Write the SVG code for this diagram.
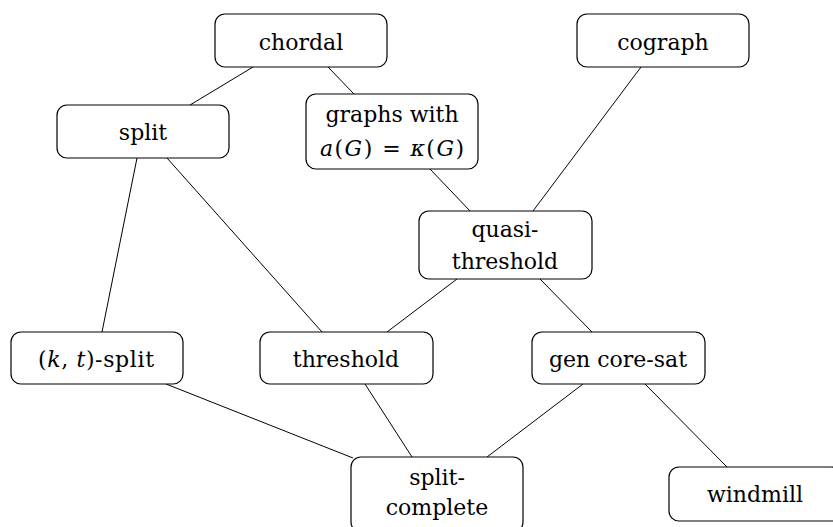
<svg xmlns="http://www.w3.org/2000/svg" width="833" height="527" viewBox="0 0 833 527">
<style>
.box{fill:#fff;stroke:#000;stroke-width:1.2}
text{font-family:'DejaVu Serif',serif;font-size:22px;fill:#000;text-anchor:middle}
.m{font-style:italic}
.e line{stroke:#000;stroke-width:1}
</style>
<rect width="833" height="527" fill="#fff"/>
<g class="e" id="connectors">
<line x1="253" y1="67" x2="190" y2="105"/>
<line x1="328" y1="67" x2="354" y2="94"/>
<line x1="430" y1="169" x2="470" y2="211"/>
<line x1="641" y1="67" x2="533" y2="211"/>
<line x1="137" y1="158" x2="102" y2="332"/>
<line x1="167" y1="158" x2="322" y2="332"/>
<line x1="457" y1="279" x2="387" y2="332"/>
<line x1="540" y1="279" x2="592" y2="332"/>
<line x1="166" y1="384" x2="353" y2="458"/>
<line x1="365" y1="384" x2="412" y2="457"/>
<line x1="583" y1="384" x2="487" y2="457"/>
<line x1="645" y1="384" x2="727" y2="467"/>
</g>
<g id="chordal"><rect class="box" x="215" y="14" width="172" height="53" rx="10"/><text x="301" y="50">chordal</text></g>
<g id="cograph"><rect class="box" x="577" y="14" width="172" height="53" rx="10"/><text x="663" y="50">cograph</text></g>
<g id="split"><rect class="box" x="57" y="105" width="172" height="53" rx="10"/><text x="143" y="140">split</text></g>
<g id="graphs"><rect class="box" x="306" y="94" width="172" height="75" rx="10"/><text x="392" y="122">graphs with</text><text x="392" y="156" textLength="144" lengthAdjust="spacing"><tspan class="m">a</tspan>(<tspan class="m">G</tspan>) = <tspan class="m">κ</tspan>(<tspan class="m">G</tspan>)</text></g>
<g id="quasi"><rect class="box" x="419" y="211" width="173" height="68" rx="10"/><text x="505" y="237">quasi-</text><text x="505" y="269">threshold</text></g>
<g id="ktsplit"><rect class="box" x="11" y="332" width="172" height="52" rx="10"/><text x="96" y="367" textLength="116" lengthAdjust="spacing">(<tspan class="m">k</tspan>, <tspan class="m">t</tspan>)-split</text></g>
<g id="threshold"><rect class="box" x="260" y="332" width="173" height="52" rx="10"/><text x="346" y="367">threshold</text></g>
<g id="gencoresat"><rect class="box" x="532" y="332" width="173" height="52" rx="10"/><text x="618" y="367">gen core-sat</text></g>
<g id="splitcomplete"><rect class="box" x="351" y="457" width="172" height="75" rx="10"/><text x="437" y="485">split-</text><text x="437" y="515">complete</text></g>
<g id="windmill"><rect class="box" x="669" y="467" width="172" height="54" rx="10"/><text x="755" y="502">windmill</text></g>
</svg>
